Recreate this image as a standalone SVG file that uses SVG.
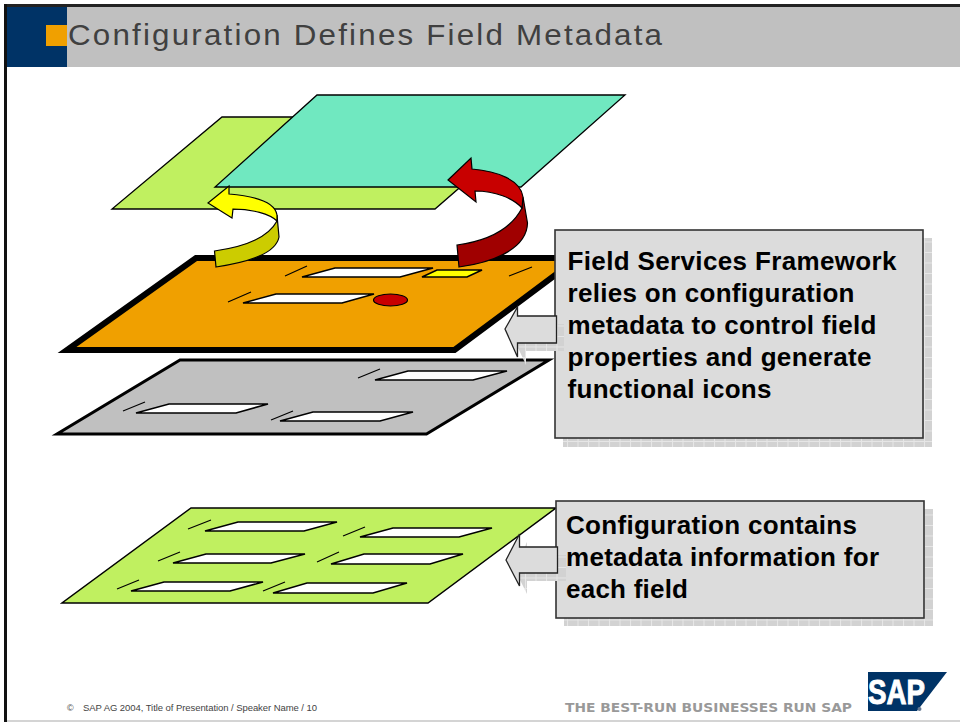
<svg xmlns="http://www.w3.org/2000/svg" width="960" height="722" viewBox="0 0 960 722">
<style>
.sans{font-family:"Liberation Sans",Arial,sans-serif}
.call{font-family:"Liberation Sans",Arial,sans-serif;font-weight:bold;font-size:26px;fill:#000}
.slot{fill:#fff;stroke:#000;stroke-width:1.6}
.tick{stroke:#000;stroke-width:1.2;fill:none}
.box{fill:#dcdcdc;stroke:#333;stroke-width:1.6}
.shadow{fill:url(#dither)}
.rib{stroke:#000;stroke-width:1.2;stroke-linejoin:miter}
</style>
<defs>
<pattern id="dither" width="10.5" height="10.5" patternUnits="userSpaceOnUse">
<rect width="10.5" height="10.5" fill="#d2d2d2"/>
<path d="M0 .5H10.5M.5 0V10.5" stroke="#e6e6e6" stroke-width="1" fill="none"/>
</pattern>
</defs>
<rect width="960" height="722" fill="#fff"/>
<g id="frame">
<rect x="67" y="7" width="893" height="60" fill="#c0c0c0"/>
<rect x="7" y="7" width="60" height="60" fill="#003366"/>
<rect x="46" y="25" width="21" height="21" fill="#f0a000"/>
<rect x="4" y="4" width="956" height="3" fill="#222"/>
<rect x="4" y="4" width="3" height="718" fill="#111"/>
<rect x="7" y="720" width="953" height="2" fill="#d4d4d4"/>
<text class="sans" transform="translate(68 45) scale(1.08 1)" font-size="29" fill="#404040" textLength="550" lengthAdjust="spacing">Configuration Defines Field Metadata</text>
</g>
<g id="plane-green-top"><polygon points="222,117 541,117 435,209 112,209" fill="#c0f060" stroke="#000" stroke-width="1.3"/></g>
<g id="plane-teal"><polygon points="317,95 625,95 521,187 215,187" fill="#70e8c0" stroke="#000" stroke-width="1.3"/></g>
<g id="plane-orange">
<polygon points="196,258 578,258 454.500,350 67,350" fill="#f0a000" stroke="#000" stroke-width="6"/>
<polygon class="slot" points="302,277 335,268 433,268 400,277"/>
<polygon class="slot" points="243,303 276,294 374,294 342,303"/>
<polygon class="slot" style="fill:#ff0" points="422,277 437,270 482,270 467,277"/>
<ellipse cx="390.500" cy="300" rx="17" ry="6" fill="#c80000" stroke="#000" stroke-width="1.2"/>
<path class="tick" d="M285 276 307 266M228 302 251 292M509 276 532 267"/>
</g>
<g id="plane-gray">
<polygon points="180,360 549,360 426.500,434 57,434" fill="#c0c0c0" stroke="#000" stroke-width="3"/>
<polygon class="slot" points="375,380 408,371 507,371 473,380"/>
<polygon class="slot" points="136,413 169,404 268,404 236,413"/>
<polygon class="slot" points="280,421 313,412 413,412 380,421"/>
<path class="tick" d="M358 378 380 369M123 411 145 402M271 420 293 411"/>
</g>
<g id="plane-green-bottom">
<polygon points="191,508 556,508 428,603 62,603" fill="#c0f060" stroke="#000" stroke-width="1.5"/>
<polygon class="slot" points="205,531 238,522 337,522 304,531"/>
<polygon class="slot" points="360,537 393,528 492,528 459,537"/>
<polygon class="slot" points="173,563 206,554 305,554 271,563"/>
<polygon class="slot" points="331,564 364,554 463,554 430,564"/>
<polygon class="slot" points="131,591 164,582 263,582 230,591"/>
<polygon class="slot" points="273,593 307,583 407,583 373,593"/>
<path class="tick" d="M188 529 211 520M343 536 365 527M158 561 180 552M317 562 339 552M117 589 139 580M263 591 285 582"/>
</g>
<g id="box-framework">
<rect class="shadow" x="563" y="238" width="369" height="209"/>
<rect class="box" x="555" y="230" width="368" height="208"/>
<text class="call" x="567.500" y="270" textLength="329">Field Services Framework</text>
<text class="call" x="567.500" y="302" textLength="287">relies on configuration</text>
<text class="call" x="567.500" y="334" textLength="309">metadata to control field</text>
<text class="call" x="567.500" y="366" textLength="304">properties and generate</text>
<text class="call" x="567.500" y="398" textLength="204">functional icons</text>
</g>
<g id="box-configuration">
<rect class="shadow" x="564" y="509" width="369" height="117"/>
<rect class="box" x="556" y="501" width="368" height="117"/>
<text class="call" x="566" y="534" textLength="291">Configuration contains</text>
<text class="call" x="566" y="566" textLength="313">metadata information for</text>
<text class="call" x="566" y="598" textLength="122">each field</text>
</g>
<g id="connectors">
<path class="rib" fill="#cccc00" d="M277 221C268 238 243 247 214.500 251L216 267C250 262 276 253 279 237L277 215Z"/>
<path class="rib" fill="#ffff00" d="M208 203 229 186 229 194C253 196 275 202 277 215L277 221C270 214 252 209 233 209L232 218Z"/>
<path class="rib" fill="#a00000" d="M522 208C510 231 486 241 457 245L459 267C497 262 527 247 527.500 223L523 197Z"/>
<path class="rib" fill="#c80000" d="M448 180 471 158 472 169C497 171 521 180 523 197L522 208C513 198 495 191 475 191L476 202Z"/>
<polygon class="shadow" points="513,337 526,315 526,324 564,324 564,351 526,351 526,365"/>
<polygon fill="#dcdcdc" stroke="#222" stroke-width="1.3" points="505,329 517.500,307 517.500,316 556.500,316 556.500,343 517.500,343 517.500,357"/>
<polygon class="shadow" points="514,568 527,542 527,555 566,555 566,581 527,581 527,594"/>
<polygon fill="#dcdcdc" stroke="#222" stroke-width="1.3" points="506,560 519.500,534 519.500,547 557.500,547 557.500,573 519.500,573 519.500,586"/>
</g>
<g id="footer">
<text class="sans" x="67" y="711" font-size="9" fill="#444">©</text>
<text class="sans" x="83" y="711" font-size="9.500" fill="#444" textLength="234">SAP AG 2004, Title of Presentation / Speaker Name / 10</text>
<text x="565" y="712" font-family="'DejaVu Sans',sans-serif" font-weight="bold" font-size="12.300" fill="#999" textLength="287" lengthAdjust="spacingAndGlyphs">THE BEST-RUN BUSINESSES RUN SAP</text>
</g>
<g id="logo">
<polygon points="868,672 947,672 917,711 868,711" fill="#003366"/>
<text class="sans" x="868" y="704" font-size="35" font-weight="bold" fill="#fff" stroke="#fff" stroke-width="1" textLength="57" lengthAdjust="spacingAndGlyphs">SAP</text>
<circle cx="919.500" cy="709" r="2" fill="#667a94"/>
</g>
</svg>
